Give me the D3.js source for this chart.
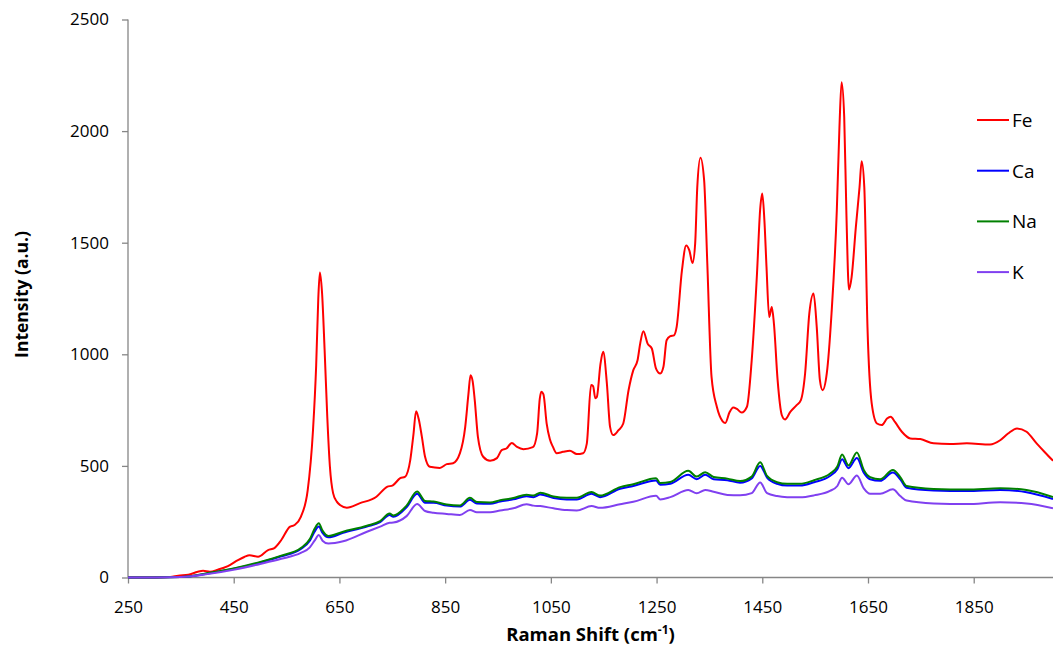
<!DOCTYPE html>
<html>
<head>
<meta charset="utf-8">
<script src="https://cdn.jsdelivr.net/npm/d3@7"></script>
<style>
  html, body { margin: 0; padding: 0; background: #fff; }
  svg { display: block; }
  text { font-family: "Open Sans", "Noto Sans", sans-serif; fill: #000; }
</style>
</head>
<body>
<svg id="chart" width="1053" height="647"></svg>
<script>
// Raman spectra of the four cation forms (intensity in a.u. vs. shift in cm-1)

// Fe spectrum
const feShift = [250,300,330,345,364,382,392,405,420,439,458,470,480,496,515,527,540,556,565,577,590,600,606,610,613,617,622,627,632,638,645,651,664,689,720,740,751,765,774,784,790,795,800,806,812,821,840,853,865,878,888,894,898,902,906,912,922,935,948,957,966,976,986,998,1016,1024,1029,1032,1036,1042,1048,1054,1061,1073,1086,1099,1111,1118,1126,1130,1134,1137,1144,1149,1156,1162,1168,1178,1187,1197,1206,1214,1219,1225,1233,1241,1249,1257,1263,1269,1276,1283,1288,1298,1306,1312,1318,1323,1327,1333,1340,1346,1354,1364,1375,1380,1388,1395,1402,1411,1421,1430,1440,1446,1450,1454,1458,1463,1468,1472,1479,1487,1493,1503,1515,1523,1531,1539,1547,1553,1559,1564,1572,1581,1591,1596,1600,1605,1609,1614,1619,1627,1634,1638,1643,1649,1657,1667,1676,1686,1693,1701,1714,1730,1749,1774,1805,1837,1881,1900,1915,1932,1950,1969,1985,2000];
const feIntensity = [0,0,2,8,12,26,30,26,35,51,78,92,100,93,123,132,168,227,235,272,392,660,950,1250,1367,1280,1018,720,496,378,340,325,313,333,362,406,413,445,451,526,640,745,710,630,541,496,491,508,512,557,675,820,906,880,795,630,541,523,535,571,578,603,585,575,584,646,800,832,820,691,620,585,557,563,568,553,557,600,862,857,803,809,959,1011,869,675,638,660,690,839,929,973,1048,1103,1048,1026,936,914,944,1063,1081,1085,1123,1376,1488,1466,1409,1496,1749,1881,1779,1406,899,765,700,692,740,762,755,739,765,974,1362,1650,1720,1600,1391,1167,1212,1138,884,727,708,742,772,795,914,1183,1272,1123,884,839,914,1183,1645,2018,2219,2063,1645,1290,1346,1570,1749,1865,1749,1123,780,690,683,712,720,697,653,623,620,601,598,601,596,615,645,668,653,601,560,523];

// Ca, Na and K spectra share one shift grid
const baseShift = [250,300,350,407,452,502,540,577,594,603,611,618,629,657,702,727,745,752,777,797,812,828,853,878,897,910,935,954,979,1004,1017,1030,1055,1080,1099,1127,1143,1181,1206,1249,1257,1276,1310,1326,1342,1358,1384,1408,1430,1446,1459,1478,1497,1521,1548,1578,1592,1601,1613,1629,1642,1654,1673,1697,1711,1723,1774,1837,1900,1950,2000];
const caIntensity = [0,0,2,20,40,68,95,128,165,205,228,200,180,200,228,248,280,272,315,375,335,335,322,318,348,332,330,340,350,364,360,372,356,350,350,375,360,398,410,435,415,420,460,440,460,440,436,425,444,500,448,420,412,412,427,455,485,530,490,535,470,440,433,470,440,402,390,387,392,382,352];
const naIntensity = [0,0,2,22,42,71,98,132,172,218,243,210,186,205,232,253,287,278,322,385,343,340,327,323,357,338,336,346,356,371,367,380,363,357,357,383,367,405,418,445,423,428,478,452,472,450,443,432,452,516,455,427,420,420,436,465,497,551,502,560,482,450,440,482,450,410,397,394,400,392,360];
const kIntensity = [0,0,2,18,36,62,84,110,135,165,190,165,152,162,205,228,245,246,275,329,298,290,285,280,302,292,292,300,310,328,322,320,310,302,300,320,312,328,339,366,350,360,392,377,392,384,370,368,378,426,378,365,360,359,368,388,410,447,418,457,399,375,375,395,365,345,332,329,337,332,310];

// Axis ticks
const xTicks = [250,450,650,850,1050,1250,1450,1650,1850];
const yTicks = [0,500,1000,1500,2000,2500];

const seriesNames = ["Fe","Ca","Na","K"];
const seriesColors = ["#ff0000","#0000ff","#008000","#8040f0"];

const series = [
  {name: "Fe", shift: feShift, values: feIntensity},
  {name: "Ca", shift: baseShift, values: caIntensity},
  {name: "Na", shift: baseShift, values: naIntensity},
  {name: "K",  shift: baseShift, values: kIntensity}
];

const svg = d3.select("#chart");
const margin = {left: 128, right: 0, top: 19.5, bottom: 69.5};
const W = 1053, H = 647;

const x = d3.scaleLinear().domain([250, 2000]).range([margin.left, W - margin.right]);
const y = d3.scaleLinear().domain([0, 2500]).range([H - margin.bottom, margin.top]);
const color = d3.scaleOrdinal().domain(seriesNames).range(seriesColors);

const axisColor = "#868686";

// y axis
const yAxis = svg.append("g")
  .attr("transform", `translate(${margin.left},0)`)
  .call(d3.axisLeft(y).tickValues(yTicks).tickSize(6).tickPadding(13).tickFormat(d3.format("d")));
// x axis
const xAxis = svg.append("g")
  .attr("transform", `translate(0,${H - margin.bottom})`)
  .call(d3.axisBottom(x).tickValues(xTicks).tickSize(6).tickPadding(17).tickFormat(d3.format("d")));

[xAxis, yAxis].forEach(g => {
  g.select(".domain").attr("stroke", axisColor).attr("stroke-width", 1.3);
  g.selectAll(".tick line").attr("stroke", axisColor).attr("stroke-width", 1.3);
  g.selectAll(".tick text").attr("font-size", 17).attr("font-family", "'Open Sans', sans-serif").attr("fill", "#000");
});
yAxis.select(".domain").attr("d", `M-0,${y(2500)}V${y(0)}`);
xAxis.select(".domain").attr("d", `M${x(250)},0H${x(2000)}`);

// spectra
const line = d3.line()
  .x(d => x(d[0]))
  .y(d => y(d[1]))
  .curve(d3.curveMonotoneX);

svg.append("g").selectAll("path")
  .data(series)
  .join("path")
  .attr("fill", "none")
  .attr("stroke", d => color(d.name))
  .attr("stroke-width", 2)
  .attr("stroke-linejoin", "round")
  .attr("d", d => line(d.shift.map((s, i) => [s, d.values[i]])));

// axis titles
svg.append("text")
  .attr("transform", `translate(21,${(y(0) + y(2500)) / 2 - 4}) rotate(-90)`)
  .attr("text-anchor", "middle")
  .attr("dominant-baseline", "central")
  .attr("font-size", 17.5)
  .attr("font-weight", "bold")
  .text("Intensity (a.u.)");

const xTitle = svg.append("text")
  .attr("x", (x(250) + x(2000)) / 2)
  .attr("y", 641)
  .attr("text-anchor", "middle")
  .attr("font-size", 18.5)
  .attr("font-weight", "bold");
xTitle.append("tspan").text("Raman Shift (cm");
xTitle.append("tspan").attr("font-size", 12).attr("dy", -7).text("-1");
xTitle.append("tspan").attr("dy", 7).text(")");

// legend
const legend = svg.append("g").selectAll("g")
  .data(seriesNames)
  .join("g")
  .attr("transform", (d, i) => `translate(977,${120 + i * 50.7})`);
legend.append("line")
  .attr("x1", 0).attr("x2", 32)
  .attr("stroke", d => color(d))
  .attr("stroke-width", 2);
legend.append("text")
  .attr("x", 35)
  .attr("dominant-baseline", "central")
  .attr("font-size", 19)
  .text(d => d);
</script>
</body>
</html>
